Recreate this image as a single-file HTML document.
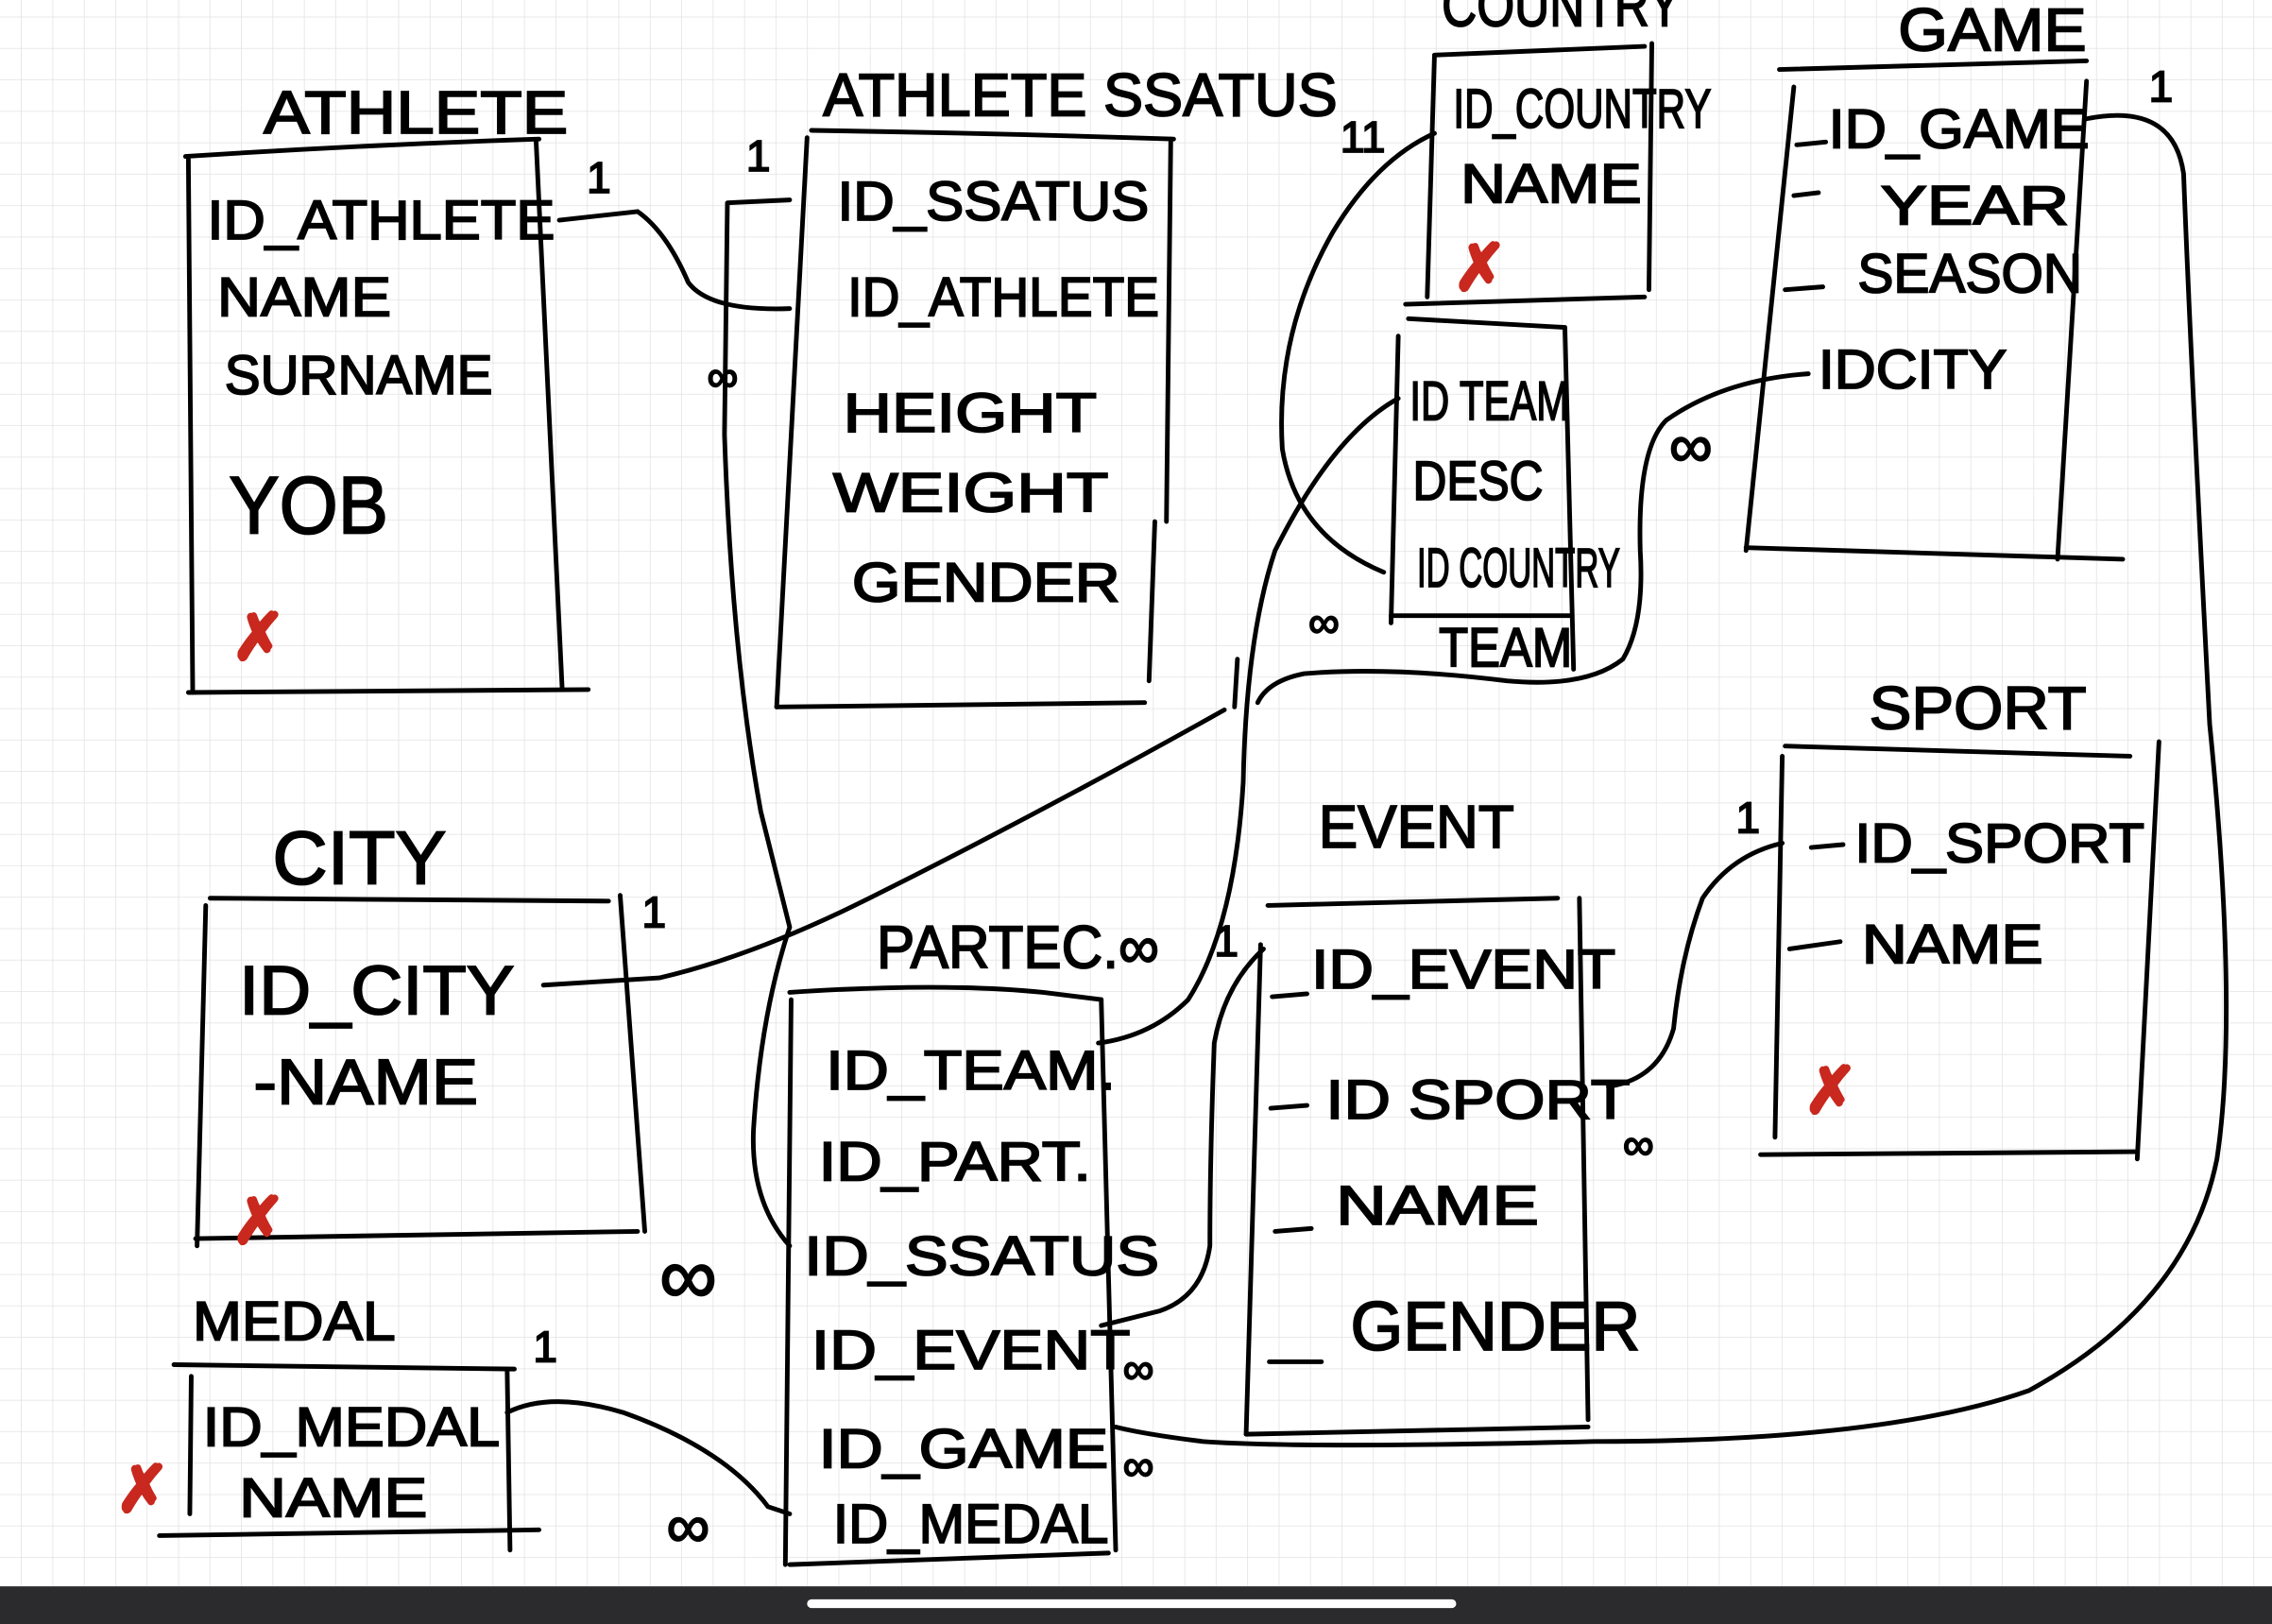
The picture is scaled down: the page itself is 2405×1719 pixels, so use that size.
<!DOCTYPE html>
<html><head><meta charset="utf-8"><style>
html,body{margin:0;padding:0;background:#fff;overflow:hidden}
svg{display:block}
text{font-family:"Liberation Sans",sans-serif;fill:#000;stroke:#000;stroke-width:1.2}
.t{font-size:38px}
.h{font-size:42px}
.s{font-size:30px}
.r{fill:#c8281e;stroke:#c8281e;font-size:44px;font-weight:bold}
path,line{fill:none;stroke:#000;stroke-width:3.2;stroke-linecap:round;stroke-linejoin:round}
</style></head><body>
<svg width="2405" height="1719" viewBox="0 0 1568 1121" preserveAspectRatio="none" xmlns="http://www.w3.org/2000/svg">
<defs><pattern id="g" x="15" y="12" width="21.7" height="21.7" patternUnits="userSpaceOnUse">
<path d="M21.7 0V21.7M0 21.7H21.7" style="stroke:#e2e2e2;stroke-width:1"/></pattern></defs>
<rect width="1568" height="1121" fill="#fff"/>
<rect width="1568" height="1095" fill="url(#g)"/>

<!-- ATHLETE -->
<text class="h" x="182" y="92" textLength="210" lengthAdjust="spacingAndGlyphs">ATHLETE</text>
<path d="M128 108 Q250 100 372 96"/>
<path d="M130 110 L133 478"/><path d="M370 98 L388 476"/><path d="M130 478 L406 476"/>
<text class="t" x="143" y="165" textLength="240" lengthAdjust="spacingAndGlyphs">ID_ATHLETE</text>
<text class="t" x="150" y="218" textLength="120" lengthAdjust="spacingAndGlyphs">NAME</text>
<text class="t" x="155" y="272" textLength="185" lengthAdjust="spacingAndGlyphs">SURNAME</text>
<text class="h" x="158" y="368" textLength="110" lengthAdjust="spacingAndGlyphs" style="font-size:56px">YOB</text>
<text class="r" x="160" y="455">✗</text>
<text class="s" x="405" y="133">1</text>
<path d="M386 152 L440 146 Q460 160 475 195 Q490 215 545 213"/>

<!-- ATHLETE STATUS -->
<text class="h" x="568" y="80" textLength="355" lengthAdjust="spacingAndGlyphs">ATHLETE  SSATUS</text>
<path d="M560 90 Q690 92 810 96"/>
<path d="M557 95 L536 488"/><path d="M808 96 L805 360"/><path d="M797 360 L793 470"/><path d="M536 488 L790 485"/>
<text class="t" x="578" y="152" textLength="215" lengthAdjust="spacingAndGlyphs">ID_SSATUS</text>
<text class="t" x="585" y="218" textLength="215" lengthAdjust="spacingAndGlyphs">ID_ATHLETE</text>
<text class="t" x="582" y="298" textLength="175" lengthAdjust="spacingAndGlyphs">HEIGHT</text>
<text class="t" x="575" y="353" textLength="190" lengthAdjust="spacingAndGlyphs">WEIGHT</text>
<text class="t" x="588" y="415" textLength="185" lengthAdjust="spacingAndGlyphs">GENDER</text>
<text class="s" x="515" y="118">1</text>
<text class="s" x="488" y="270">∞</text>
<path d="M545 138 L502 140 L500 300 Q505 450 525 560 L545 640 Q525 700 520 780 Q518 830 545 860"/>

<!-- COUNTRY -->
<text class="h" x="995" y="18" textLength="165" lengthAdjust="spacingAndGlyphs">COUNTRY</text>
<path d="M990 38 L1135 32"/><path d="M990 38 L985 205"/><path d="M1140 30 L1138 200"/><path d="M970 210 L1135 205"/>
<text class="t" x="1003" y="88" textLength="178" lengthAdjust="spacingAndGlyphs">ID_COUNTRY</text>
<text class="t" x="1008" y="140" textLength="125" lengthAdjust="spacingAndGlyphs">NAME</text>
<text class="r" x="1003" y="200">✗</text>
<text class="s" x="925" y="105">11</text>
<path d="M990 92 Q950 110 920 160 Q880 230 885 310 Q895 370 955 395"/>

<!-- TEAM -->
<path d="M972 220 L1080 226"/><path d="M965 232 L960 430"/><path d="M1080 226 L1086 462"/>
<text class="t" x="973" y="290" textLength="110" lengthAdjust="spacingAndGlyphs">ID TEAM</text>
<text class="t" x="975" y="345" textLength="90" lengthAdjust="spacingAndGlyphs">DESC</text>
<text class="t" x="978" y="405" textLength="140" lengthAdjust="spacingAndGlyphs">ID COUNTRY</text>
<text class="t" x="993" y="460" textLength="92" lengthAdjust="spacingAndGlyphs">TEAM</text>
<path d="M960 425 L1085 425"/>
<text class="s" x="903" y="440">∞</text>
<path d="M965 275 Q920 300 880 380 Q860 440 858 540 Q852 640 820 690 Q795 715 758 720"/>

<!-- GAME -->
<text class="h" x="1310" y="35" textLength="130" lengthAdjust="spacingAndGlyphs">GAME</text>
<path d="M1228 48 L1440 42"/><path d="M1238 60 L1205 380"/><path d="M1440 56 L1420 386"/><path d="M1205 378 L1465 386"/>
<text class="t" x="1262" y="102" textLength="180" lengthAdjust="spacingAndGlyphs">ID_GAME</text>
<text class="t" x="1298" y="155" textLength="130" lengthAdjust="spacingAndGlyphs">YEAR</text>
<text class="t" x="1282" y="202" textLength="155" lengthAdjust="spacingAndGlyphs">SEASON</text>
<text class="t" x="1255" y="268" textLength="130" lengthAdjust="spacingAndGlyphs">IDCITY</text>
<path d="M1240 100 L1260 98"/><path d="M1238 135 L1255 133"/><path d="M1232 200 L1258 198"/>
<text class="s" x="1483" y="70">1</text>
<text class="h" x="1152" y="322">∞</text>
<path d="M1440 82 Q1500 70 1507 120 Q1512 250 1525 500 Q1545 700 1530 800 Q1510 900 1400 960 Q1300 995 1100 995 Q900 1000 830 995 Q790 990 770 985"/>
<path d="M1248 258 Q1190 262 1150 290 Q1130 310 1132 380 Q1135 430 1120 455 Q1095 475 1040 470 Q960 460 900 465 Q875 470 868 485"/>
<path d="M854 455 L852 488"/>

<!-- CITY -->
<text class="h" x="188" y="610" textLength="120" lengthAdjust="spacingAndGlyphs" style="font-size:52px">CITY</text>
<path d="M145 620 L420 622"/><path d="M142 625 L136 860"/><path d="M428 618 L445 850"/><path d="M135 855 L440 850"/>
<text class="t" x="165" y="700" textLength="190" lengthAdjust="spacingAndGlyphs" style="font-size:48px">ID_CITY</text>
<text class="t" x="175" y="762" textLength="155" lengthAdjust="spacingAndGlyphs" style="font-size:44px">-NAME</text>
<text class="r" x="160" y="858">✗</text>
<text class="s" x="443" y="640">1</text>
<path d="M375 680 L455 675 Q520 660 600 620 Q720 560 845 490"/>

<!-- MEDAL -->
<text class="t" x="133" y="925" textLength="140" lengthAdjust="spacingAndGlyphs">MEDAL</text>
<path d="M120 942 L355 945"/><path d="M132 950 L131 1045"/><path d="M350 945 L352 1070"/><path d="M110 1060 L372 1056"/>
<text class="t" x="140" y="998" textLength="205" lengthAdjust="spacingAndGlyphs">ID_MEDAL</text>
<text class="t" x="165" y="1047" textLength="130" lengthAdjust="spacingAndGlyphs">NAME</text>
<text class="r" x="80" y="1043">✗</text>
<text class="s" x="368" y="940">1</text>
<text class="h" x="460" y="1068">∞</text>
<path d="M350 975 Q380 960 430 975 Q500 1000 530 1040 L545 1045"/>

<!-- PARTEC -->
<text class="h" x="605" y="668" textLength="195" lengthAdjust="spacingAndGlyphs">PARTEC.∞</text>
<path d="M545 685 Q650 678 720 685 L760 690"/><path d="M546 690 L542 1080"/><path d="M760 690 L770 1070"/><path d="M545 1080 L765 1072"/>
<text class="t" x="570" y="752" textLength="200" lengthAdjust="spacingAndGlyphs">ID_TEAM.</text>
<text class="t" x="565" y="815" textLength="188" lengthAdjust="spacingAndGlyphs">ID_PART.</text>
<text class="t" x="555" y="880" textLength="245" lengthAdjust="spacingAndGlyphs">ID_SSATUS</text>
<text class="t" x="560" y="945" textLength="220" lengthAdjust="spacingAndGlyphs">ID_EVENT</text>
<text class="t" x="565" y="1013" textLength="200" lengthAdjust="spacingAndGlyphs">ID_GAME</text>
<text class="t" x="575" y="1065" textLength="190" lengthAdjust="spacingAndGlyphs">ID_MEDAL</text>
<text class="h" x="455" y="900" style="font-size:56px">∞</text>
<text class="s" x="775" y="955">∞</text>
<text class="s" x="775" y="1022">∞</text>

<!-- EVENT -->
<text class="h" x="910" y="585" textLength="135" lengthAdjust="spacingAndGlyphs">EVENT</text>
<path d="M875 625 L1075 620"/><path d="M870 652 L860 990"/><path d="M1090 620 L1096 980"/><path d="M860 990 L1096 985"/>
<text class="t" x="905" y="682" textLength="210" lengthAdjust="spacingAndGlyphs">ID_EVENT</text>
<text class="t" x="915" y="772" textLength="210" lengthAdjust="spacingAndGlyphs">ID SPORT</text>
<text class="t" x="922" y="845" textLength="140" lengthAdjust="spacingAndGlyphs">NAME</text>
<text class="t" x="932" y="932" textLength="200" lengthAdjust="spacingAndGlyphs" style="font-size:48px">GENDER</text>
<path d="M878 688 L902 686"/><path d="M877 765 L902 763"/><path d="M880 850 L905 848"/><path d="M876 940 L912 940"/>
<text class="s" x="838" y="660">1</text>
<text class="s" x="1120" y="800">∞</text>
<path d="M872 655 Q845 680 838 720 Q835 800 835 860 Q830 895 800 905 L760 915"/>
<path d="M1230 582 Q1195 590 1175 620 Q1160 660 1155 710 Q1145 745 1110 750"/>

<!-- SPORT -->
<text class="h" x="1290" y="503" textLength="150" lengthAdjust="spacingAndGlyphs">SPORT</text>
<path d="M1232 515 L1470 522"/><path d="M1230 522 L1225 785"/><path d="M1490 512 L1475 800"/><path d="M1215 797 L1475 795"/>
<text class="t" x="1280" y="595" textLength="200" lengthAdjust="spacingAndGlyphs">ID_SPORT</text>
<text class="t" x="1285" y="665" textLength="125" lengthAdjust="spacingAndGlyphs">NAME</text>
<path d="M1250 585 L1272 583"/><path d="M1235 655 L1270 650"/>
<text class="r" x="1245" y="768">✗</text>
<text class="s" x="1198" y="575">1</text>

<!-- bottom bar -->
<rect x="0" y="1095" width="1568" height="26" fill="#2b2b2d"/>
<rect x="557" y="1104" width="448" height="6" rx="3" fill="#fff"/>
</svg>
</body></html>
